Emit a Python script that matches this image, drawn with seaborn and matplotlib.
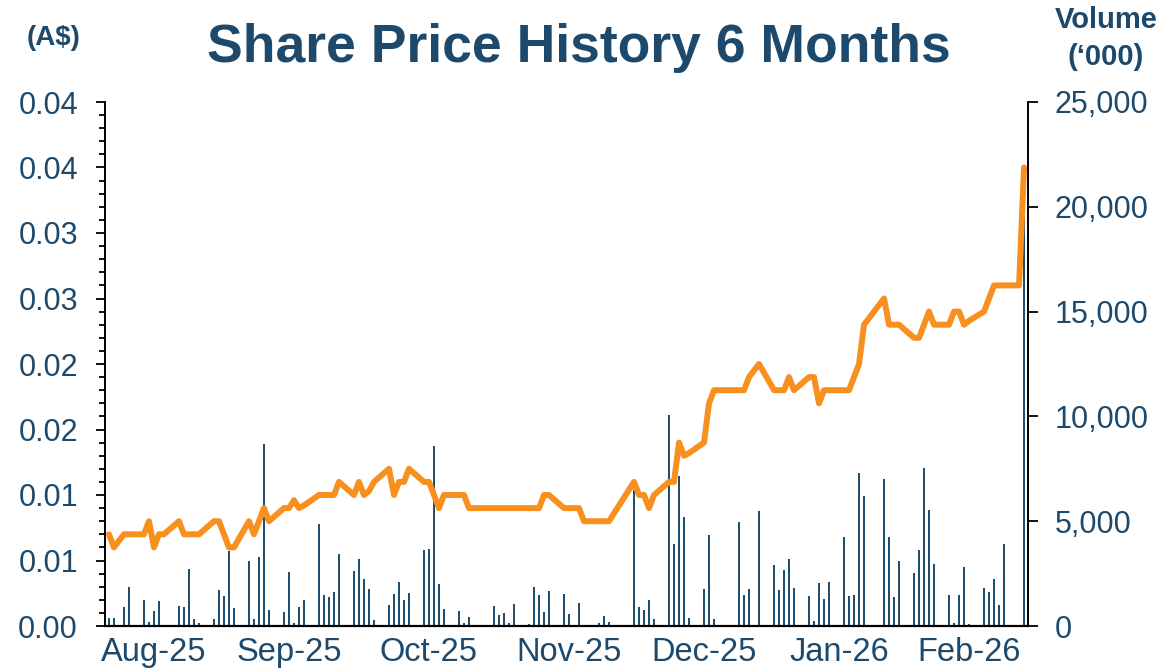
import pandas as pd
import numpy as np
import matplotlib
matplotlib.use('Agg')
import matplotlib.pyplot as plt
import seaborn as sns
from matplotlib.ticker import MultipleLocator, FixedLocator

# trading days (ASX holidays removed)
holidays = ['2025-12-25', '2025-12-26', '2026-01-01', '2026-01-26']
dates = pd.bdate_range('2025-08-25', '2026-02-24').drop(pd.to_datetime(holidays))

# closing price (A$), one row per week
price = [
    0.0070, 0.0060, 0.0065, 0.0070, 0.0070,
    0.0070, 0.0080, 0.0060, 0.0070, 0.0070,
    0.0080, 0.0070, 0.0070, 0.0070, 0.0070,
    0.0080, 0.0080, 0.0070, 0.0060, 0.0060,
    0.0080, 0.0070, 0.0080, 0.0090, 0.0080,
    0.0090, 0.0090, 0.0096, 0.0090, 0.0092,
    0.0100, 0.0100, 0.0100, 0.0100, 0.0110,
    0.0100, 0.0110, 0.0100, 0.0103, 0.0110,
    0.0120, 0.0100, 0.0110, 0.0110, 0.0120,
    0.0110, 0.0110, 0.0100, 0.0090, 0.0100,
    0.0100, 0.0100, 0.0090, 0.0090, 0.0090,
    0.0090, 0.0090, 0.0090, 0.0090, 0.0090,
    0.0090, 0.0090, 0.0090, 0.0100, 0.0100,
    0.0090, 0.0090, 0.0090, 0.0090, 0.0080,
    0.0080, 0.0080, 0.0080, 0.0086, 0.0092,
    0.0110, 0.0100, 0.0100, 0.0090, 0.0100,
    0.0110, 0.0110, 0.0140, 0.0130, 0.0132,
    0.0140, 0.0170, 0.0180,
    0.0180, 0.0180, 0.0190, 0.0200,
    0.0180, 0.0180, 0.0180, 0.0190, 0.0180,
    0.0190, 0.0190, 0.0170, 0.0180, 0.0180,
    0.0180, 0.0180, 0.0190, 0.0200, 0.0230,
    0.0250, 0.0230, 0.0230, 0.0230,
    0.0220, 0.0220, 0.0230, 0.0240, 0.0230,
    0.0230, 0.0240, 0.0240, 0.0230, 0.0233,
    0.0240, 0.0250, 0.0260, 0.0260, 0.0260,
    0.0260, 0.0350,
]

# volume ('000)
volume = [
    370, 400, 0, 890, 1880,
    1240, 170, 700, 1180, 50,
    940, 890, 2740, 330, 130,
    350, 1720, 1430, 3580, 870,
    3100, 330, 3290, 8680, 760,
    650, 2580, 130, 920, 1220,
    4870, 1460, 1370, 1620, 3440,
    2620, 3180, 2240, 1770, 290,
    1000, 1510, 2100, 1260, 1560,
    3610, 3670, 8570, 2000, 800,
    730, 130, 430, 0, 0,
    950, 540, 600, 130, 1030,
    80, 1840, 1480, 670, 1670,
    1510, 570, 0, 1100, 0,
    140, 490, 190, 0, 0,
    6490, 920, 760, 1220, 330,
    10070, 3910, 7160, 5220, 370,
    1770, 4330, 330,
    4960, 1500, 1780, 5510,
    2900, 1720, 2670, 3210, 1820,
    1450, 260, 2030, 1300, 2100,
    4230, 1420, 1480, 7300, 6200,
    7010, 4240, 1400, 3100,
    2520, 3630, 7550, 5550, 2980,
    1470, 160, 1460, 2830, 80,
    1790, 1620, 2220, 1000, 3900,
    60, 20000,
]

price_ticks = [0, 0.005, 0.01, 0.015, 0.02, 0.025, 0.03, 0.035, 0.04]
price_labels = ['0.00', '0.01', '0.01', '0.02', '0.02', '0.03', '0.03', '0.04', '0.04']
vol_ticks = [0, 5000, 10000, 15000, 20000, 25000]
vol_labels = ['0', '5,000', '10,000', '15,000', '20,000', '25,000']
month_ticks = pd.to_datetime(['2025-09-03', '2025-09-30', '2025-10-28', '2025-11-25',
                              '2025-12-22', '2026-01-18', '2026-02-13'])
month_labels = ['Aug-25', 'Sep-25', 'Oct-25', 'Nov-25', 'Dec-25', 'Jan-26', 'Feb-26']

df = pd.DataFrame({'Date': dates, 'Price': price, 'Volume': volume})

sns.set_style('white')
plt.rcParams['font.family'] = ['Liberation Sans', 'DejaVu Sans']

navy = '#1d4a6c'
bar_color = '#1f4e6e'
orange = '#f7901e'

fig = plt.figure(figsize=(11.63, 6.69), dpi=100)
ax = fig.add_axes([105 / 1163, 1 - 626 / 669, (1028 - 105) / 1163, (626 - 102) / 669])
ax2 = ax.twinx()

# volume bars on the right axis
ax2.bar(df['Date'], df['Volume'], width=0.45, color=bar_color, linewidth=0)
ax2.set_ylim(0, 25000)
ax2.yaxis.set_major_locator(FixedLocator(vol_ticks))
ax2.set_yticklabels(vol_labels)

# price line on the left axis, drawn above bars
sns.lineplot(data=df, x='Date', y='Price', ax=ax, color=orange, linewidth=4.3,
             solid_capstyle='round', solid_joinstyle='round')
ax.set_zorder(ax2.get_zorder() + 1)
ax.patch.set_visible(False)
ax.set_ylim(0, 0.04)
ax.yaxis.set_major_locator(FixedLocator(price_ticks))
ax.set_yticklabels(price_labels)
ax.yaxis.set_minor_locator(MultipleLocator(0.001))

ax.set_xlim(df['Date'].iloc[0] - pd.Timedelta(hours=19), df['Date'].iloc[-1] + pd.Timedelta(hours=19))
ax.set_xticks(month_ticks)
ax.set_xticklabels(month_labels)
ax.set_xlabel('')
ax.set_ylabel('')

for a in (ax, ax2):
    a.spines['top'].set_visible(False)
ax.spines['right'].set_visible(False)
ax2.spines['left'].set_visible(False)
ax2.spines['bottom'].set_visible(False)
ax.spines['left'].set_color('black')
ax.spines['left'].set_linewidth(1.4)
ax.spines['bottom'].set_color('black')
ax.spines['bottom'].set_linewidth(1.6)
ax2.spines['right'].set_color('black')
ax2.spines['right'].set_linewidth(1.4)

ax.tick_params(axis='y', which='major', direction='out', length=6.5, width=1.3,
               color='black', labelsize=22, labelcolor=navy, pad=13, left=True)
ax.tick_params(axis='y', which='minor', direction='out', length=4.5, width=1.3,
               color='black', left=True)
ax.tick_params(axis='x', length=0, labelsize=23.5, labelcolor=navy, pad=8)
ax2.tick_params(axis='y', direction='out', length=7, width=1.3, color='black',
                labelsize=22, labelcolor=navy, pad=12, right=True)

fig.text(579 / 1163, 1 - 62 / 669, 'Share Price History 6 Months', ha='center', va='baseline',
         fontsize=38.5, fontweight='bold', color=navy)
fig.text(54 / 1163, 1 - 45 / 669, '(A$)', ha='center', va='baseline',
         fontsize=20, fontweight='bold', color=navy)
fig.text(1106 / 1163, 1 - 28 / 669, 'Volume', ha='center', va='baseline',
         fontsize=21, fontweight='bold', color=navy)
fig.text(1106 / 1163, 1 - 65 / 669, '(\u2018000)', ha='center', va='baseline',
         fontsize=21, fontweight='bold', color=navy)

fig.savefig('out.png', dpi=100)
plt.close(fig)
